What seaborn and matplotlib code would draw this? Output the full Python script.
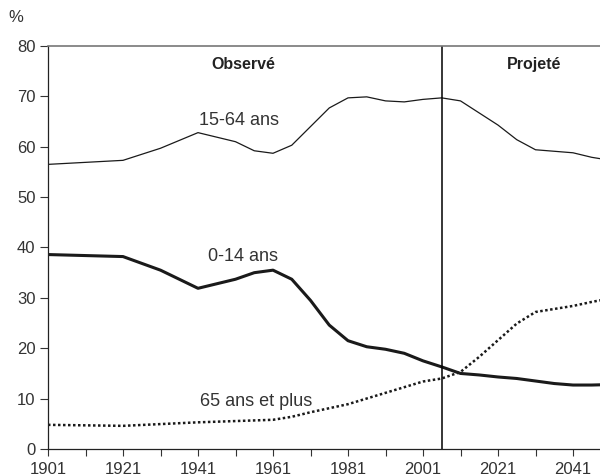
import numpy as np
import pandas as pd
import seaborn as sns
import matplotlib.pyplot as plt

# data (% of population by age group)
years_1564 = [1901, 1921, 1931, 1941, 1951, 1956, 1961, 1966, 1971, 1976, 1981, 1986, 1991, 1996, 2001, 2006,
              2011, 2021, 2026, 2031, 2041, 2046, 2051]
val_1564 = [56.5, 57.3, 59.7, 62.8, 61.0, 59.2, 58.7, 60.3, 64.0, 67.7, 69.7, 69.9, 69.1, 68.9, 69.4, 69.7,
            69.1, 64.3, 61.4, 59.4, 58.8, 57.9, 57.3]

years_014 = [1901, 1921, 1931, 1941, 1951, 1956, 1961, 1966, 1971, 1976, 1981, 1986, 1991, 1996, 2001, 2006,
             2011, 2016, 2021, 2026, 2031, 2036, 2041, 2046, 2051]
val_014 = [38.6, 38.2, 35.5, 31.9, 33.7, 35.0, 35.5, 33.7, 29.5, 24.6, 21.5, 20.3, 19.8, 19.0, 17.5, 16.3,
           15.0, 14.7, 14.3, 14.0, 13.5, 13.0, 12.7, 12.7, 12.8]

years_65 = [1901, 1921, 1941, 1961, 1966, 1971, 1981, 2001, 2006, 2011, 2016, 2021, 2026, 2031, 2041, 2046, 2051]
val_65 = [4.8, 4.6, 5.3, 5.8, 6.4, 7.3, 8.9, 13.4, 14.0, 15.3, 18.3, 21.6, 24.9, 27.2, 28.4, 29.2, 29.9]

xticks = [1901, 1921, 1941, 1961, 1981, 2001, 2021, 2041]
yticks = [0, 10, 20, 30, 40, 50, 60, 70, 80]

sns.set_style("white")
plt.rcParams['font.family'] = ['Liberation Sans', 'DejaVu Sans']

fig = plt.figure(figsize=(6, 4.74), dpi=100)
ax = fig.add_axes([0.08, 0.0527, 0.92, 0.8503])

sns.lineplot(x=years_1564, y=val_1564, ax=ax, color='#1a1a1a', linewidth=0.9)
sns.lineplot(x=years_014, y=val_014, ax=ax, color='#1a1a1a', linewidth=2.2)
sns.lineplot(x=years_65, y=val_65, ax=ax, color='#1a1a1a', linewidth=1.8, linestyle=(0, (1, 1)))

ax.axvline(2006, color='black', linewidth=1.1)

ax.set_xlim(1901, 2048.2)
ax.set_ylim(0, 80)
ax.set_xticks(xticks)
ax.set_xticks(np.arange(1911, 2050, 20), minor=True)
ax.set_yticks(yticks)
ax.tick_params(axis='both', which='both', direction='out', length=6, width=0.8, color='#333333',
               labelsize=12, labelcolor='#333333')
ax.tick_params(axis='x', which='both', bottom=True, length=5, pad=4)
ax.tick_params(axis='y', left=True, pad=3)

for s in ['left', 'bottom']:
    ax.spines[s].set_color('#222222')
    ax.spines[s].set_linewidth(0.9)
ax.spines['top'].set_color('#777777')
ax.spines['top'].set_linewidth(1.2)
ax.spines['right'].set_visible(False)

fig.text(8 / 600, 1 - 18 / 474, '%', fontsize=12, color='#333333', va='center')

bold_fam = ['Liberation Sans Narrow', 'Liberation Sans', 'DejaVu Sans']
ax.text(1953, 76.3, 'Observé', fontsize=11.5, fontweight='bold', color='#222222', ha='center', va='center',
        family=bold_fam)
ax.text(2030.5, 76.3, 'Projeté', fontsize=11.5, fontweight='bold', color='#222222', ha='center', va='center',
        family=bold_fam)
ax.text(1952, 65.3, '15-64 ans', fontsize=13, color='#333333', ha='center', va='center')
ax.text(1953, 38.3, '0-14 ans', fontsize=13, color='#333333', ha='center', va='center')
ax.text(1956.5, 9.5, '65 ans et plus', fontsize=13, color='#333333', ha='center', va='center')

fig.savefig('out.png', dpi=100)
